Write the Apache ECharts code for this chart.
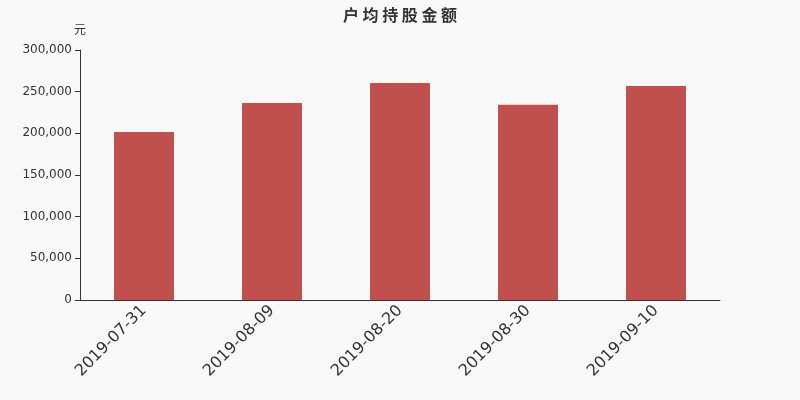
<!DOCTYPE html>
<html>
<head>
<meta charset="utf-8">
<script src="https://cdn.jsdelivr.net/npm/echarts@6/dist/echarts.min.js"></script>
<style>
  html, body { margin: 0; padding: 0; background: #f8f8f8; }
  #main { width: 800px; height: 400px; }
</style>
</head>
<body>
<div id="main"></div>
<script>
var dates = ['2019-07-31', '2019-08-09', '2019-08-20', '2019-08-30', '2019-09-10'];
var values = [201600, 236400, 260400, 234400, 256800];

var myChart = echarts.init(document.getElementById('main'));
var option = {
    backgroundColor: '#f8f8f8',
    textStyle: { fontFamily: 'DejaVu Sans, Noto Sans CJK SC' },
    title: {
        text: '户 均 持 股 金 额',
        left: 'center',
        top: 2,
        textStyle: { fontSize: 16, fontWeight: 'bold', color: '#333', fontFamily: 'Noto Sans CJK SC' }
    },
    grid: { left: 80, right: 80, top: 50, bottom: 100 },
    xAxis: {
        type: 'category',
        data: dates,
        axisLine: { lineStyle: { color: '#333' } },
        axisTick: { alignWithLabel: false },
        axisLabel: { rotate: 45, fontSize: 16, color: '#333', margin: 8, fontFamily: 'DejaVu Sans' }
    },
    yAxis: {
        type: 'value',
        name: '元',
        nameGap: 15,
        nameTextStyle: { color: '#333', fontSize: 12, fontFamily: 'Noto Sans CJK SC' },
        min: 0,
        max: 300000,
        interval: 50000,
        axisLine: { show: true, lineStyle: { color: '#333' } },
        axisTick: { show: true },
        splitLine: { show: false },
        axisLabel: {
            color: '#333',
            fontSize: 12,
            fontFamily: 'DejaVu Sans',
            formatter: function (v) { return v.toLocaleString('en-US'); }
        }
    },
    series: [{
        type: 'bar',
        data: values,
        barWidth: 60,
        itemStyle: { color: '#c0504e' }
    }]
};
myChart.setOption(option);
</script>
</body>
</html>
